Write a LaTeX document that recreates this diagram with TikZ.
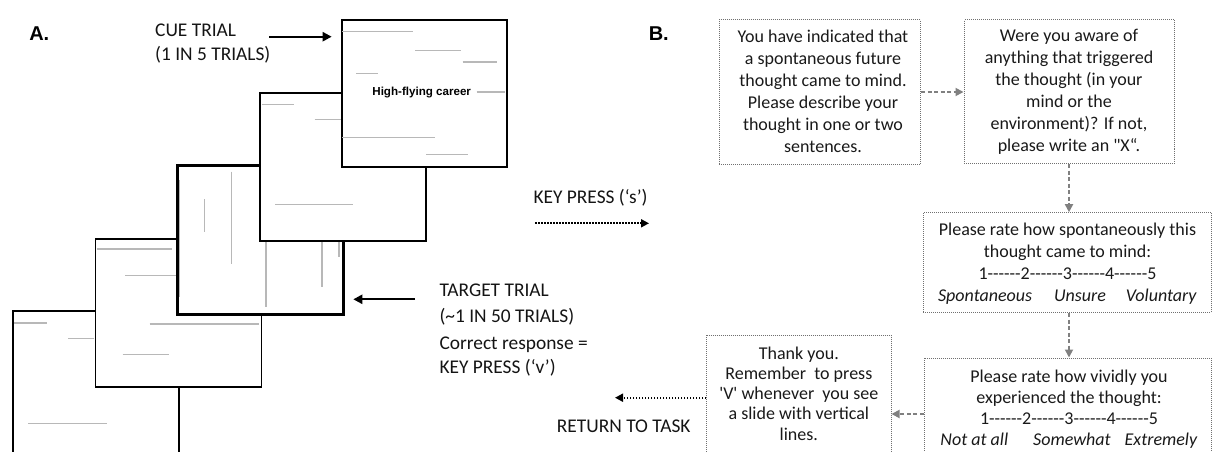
\documentclass[tikz,border=0pt]{standalone}
\usepackage{fontspec}
\setmainfont{Carlito}[Ligatures=TeXOff]
\newfontfamily\arialfont{Liberation Sans}
\usetikzlibrary{arrows.meta}
\definecolor{slideline}{HTML}{B8B8B8}
\definecolor{boxgray}{HTML}{707070}
\definecolor{conngray}{HTML}{808080}
\tikzset{
  slide/.style={draw=black, line width=1.8pt, fill=white, minimum width=166pt, minimum height=148pt, inner sep=0pt, anchor=north west},
  gline/.style={draw=slideline, line width=1.1pt},
  qbox/.style={draw=boxgray, line width=1pt, dash pattern=on 1pt off 1pt, inner sep=0pt},
  qtext/.style={font=\fontsize{18}{22}\selectfont, align=center, inner sep=0pt, text=black!90},
  lbl/.style={font=\fontsize{19.4}{23.6}\selectfont, inner sep=0pt, anchor=base west, text=black!92},
  panel/.style={font=\arialfont\bfseries\fontsize{20}{24}\selectfont, inner sep=0pt},
  solidarrow/.style={line width=2.2pt, -{Triangle[length=9pt,width=9pt]}},
  dotarrow/.style={line width=1.9pt, dash pattern=on 1.5pt off 1.5pt, -{Triangle[length=8pt,width=8pt]}},
  grayarrow/.style={draw=conngray, line width=1.8pt, dash pattern=on 4pt off 2.5pt, -{Triangle[length=8pt,width=8pt]}, color=conngray},
}
\begin{document}
\begin{tikzpicture}[x=1pt,y=-1pt]
\useasboundingbox (0,0) rectangle (1213,452);
\clip (0,0) rectangle (1213,452);
% ---- Panel A: stacked slides ----
\node[slide] (s1) at (11.7,310.3) {};
\draw[gline] (14,323) -- (47.3,323) (68,338.7) -- (94.3,338.7) (28.3,423.7) -- (106.7,423.7);
\node[slide] (s2) at (94.6,237.7) {};
\draw[gline] (96.7,249) -- (172.3,249) (125.3,275.3) -- (176,275.3) (149.7,324) -- (259.3,324) (122.7,354.7) -- (169.3,354.7);
\node[slide, line width=2.8pt, minimum height=149pt] (s3) at (176.3,164.3) {};
\draw[gline] (179.5,180) -- (179.5,296.7) (204.3,199) -- (204.3,232.3) (231.3,171.7) -- (231.3,264) (266,230) -- (266,307) (322,230) -- (322,287.3) (339,230) -- (339,256.7);
\node[slide] (s4) at (258.7,91.7) {};
\draw[gline] (262,104.7) -- (294.3,104.7) (314.7,119.3) -- (345,119.3) (275,204.7) -- (352.7,204.7);
\node[slide, line width=2.1pt, minimum height=147pt, minimum width=165.5pt] (s5) at (340.7,19) {};
\draw[gline] (342,31.7) -- (412.7,31.7) (415,50.7) -- (460.7,50.7) (462.7,62) -- (497.3,62) (356,73.7) -- (377.7,73.7) (476.7,92) -- (505,92) (342,137.7) -- (434.7,137.7) (426,154.3) -- (468,154.3);
\node[font=\arialfont\bfseries\fontsize{11.6}{14}\selectfont, inner sep=0pt] (cueword) at (421.7,92.3) {High-flying career};
% ---- Panel A labels ----
\node[panel] (labA) at (39.3,33.5) {A.};
\node[lbl] (cue1) at (155,37) {CUE TRIAL};
\node[lbl] (cue2) at (155,60.7) {(1 IN 5 TRIALS)};
\coordinate (cueA) at (269.3,36.7);
\coordinate (cueB) at (331.7,36.7);
\draw[solidarrow] (cueA) -- (cueB);
\node[lbl] (tg1) at (439.3,296.5) {TARGET TRIAL};
\node[lbl] (tg2) at (439.3,322.3) {(\textasciitilde 1 IN 50 TRIALS)};
\node[lbl] (tg3) at (439.3,349.8) {Correct response =};
\node[lbl] (tg4) at (439.3,373.3) {KEY PRESS (‘v’)};
\coordinate (tgA) at (415,299.3);
\coordinate (tgB) at (353.3,299.3);
\draw[solidarrow] (tgA) -- (tgB);
\node[lbl] (kp) at (533.3,203.3) {KEY PRESS (‘s’)};
\coordinate (kpA) at (535,223.3);
\coordinate (kpB) at (649,223.3);
\draw[dotarrow] (kpA) -- (kpB);
\node[lbl] (rt) at (556.7,432.3) {RETURN TO TASK};
% ---- Panel B ----
\node[panel] (labB) at (658.8,33.5) {B.};
\node[qbox, minimum width=201.7pt, minimum height=144pt] (b1) at (819.85,92) {};
\node[qbox, minimum width=210pt, minimum height=143.5pt] (b2) at (1069,91.75) {};
\node[qbox, minimum width=287.7pt, minimum height=100pt] (b3) at (1067.15,262.7) {};
\node[qbox, minimum width=287pt, minimum height=112pt] (b4) at (1067.5,414) {};
\node[qbox, minimum width=184.3pt, minimum height=135pt] (b5) at (798.85,402.5) {};
\node[qtext] (t1) at (823,91.5) {You have indicated that\\a spontaneous future\\thought came to mind.\\Please describe your\\thought in one or two\\sentences.};
\node[qtext] (t2) at (1069,91.5) {Were you aware of\\anything that triggered\\the thought (in your\\mind or the\\environment)? If not,\\please write an "X“.};
\node[qtext] (t3) at (1067.5,264) {Please rate how spontaneously this\\thought came to mind:\\1------2------3------4------5\\\textit{Spontaneous\hspace{22pt}Unsure\hspace{20pt}Voluntary}};
\node[qtext, font=\fontsize{18}{21.1}\selectfont] (t4) at (1069,409) {Please rate how vividly you\\experienced the thought:\\1------2------3------4------5\\\textit{Not at all\hspace{25pt}Somewhat\hspace{14pt}Extremely}};
\node[qtext, font=\fontsize{18}{20.2}\selectfont] (t5) at (798.8,393.5) {Thank you.\\Remember~ to press\\'V' whenever~ you see\\a slide with vertical\\lines.};
\draw[grayarrow] (b1.east) -- (b1.east -| b2.west);
\draw[grayarrow] (b2.south) -- (b2.south |- b3.north);
\draw[grayarrow] (b2.south |- b3.south) -- (b2.south |- b4.north);
\draw[grayarrow] (b4.west) -- (b4.west -| b5.east);
\coordinate (ret) at (615,397.7);
\draw[dotarrow] (b5.west |- ret) -- (ret);
\end{tikzpicture}
\end{document}
